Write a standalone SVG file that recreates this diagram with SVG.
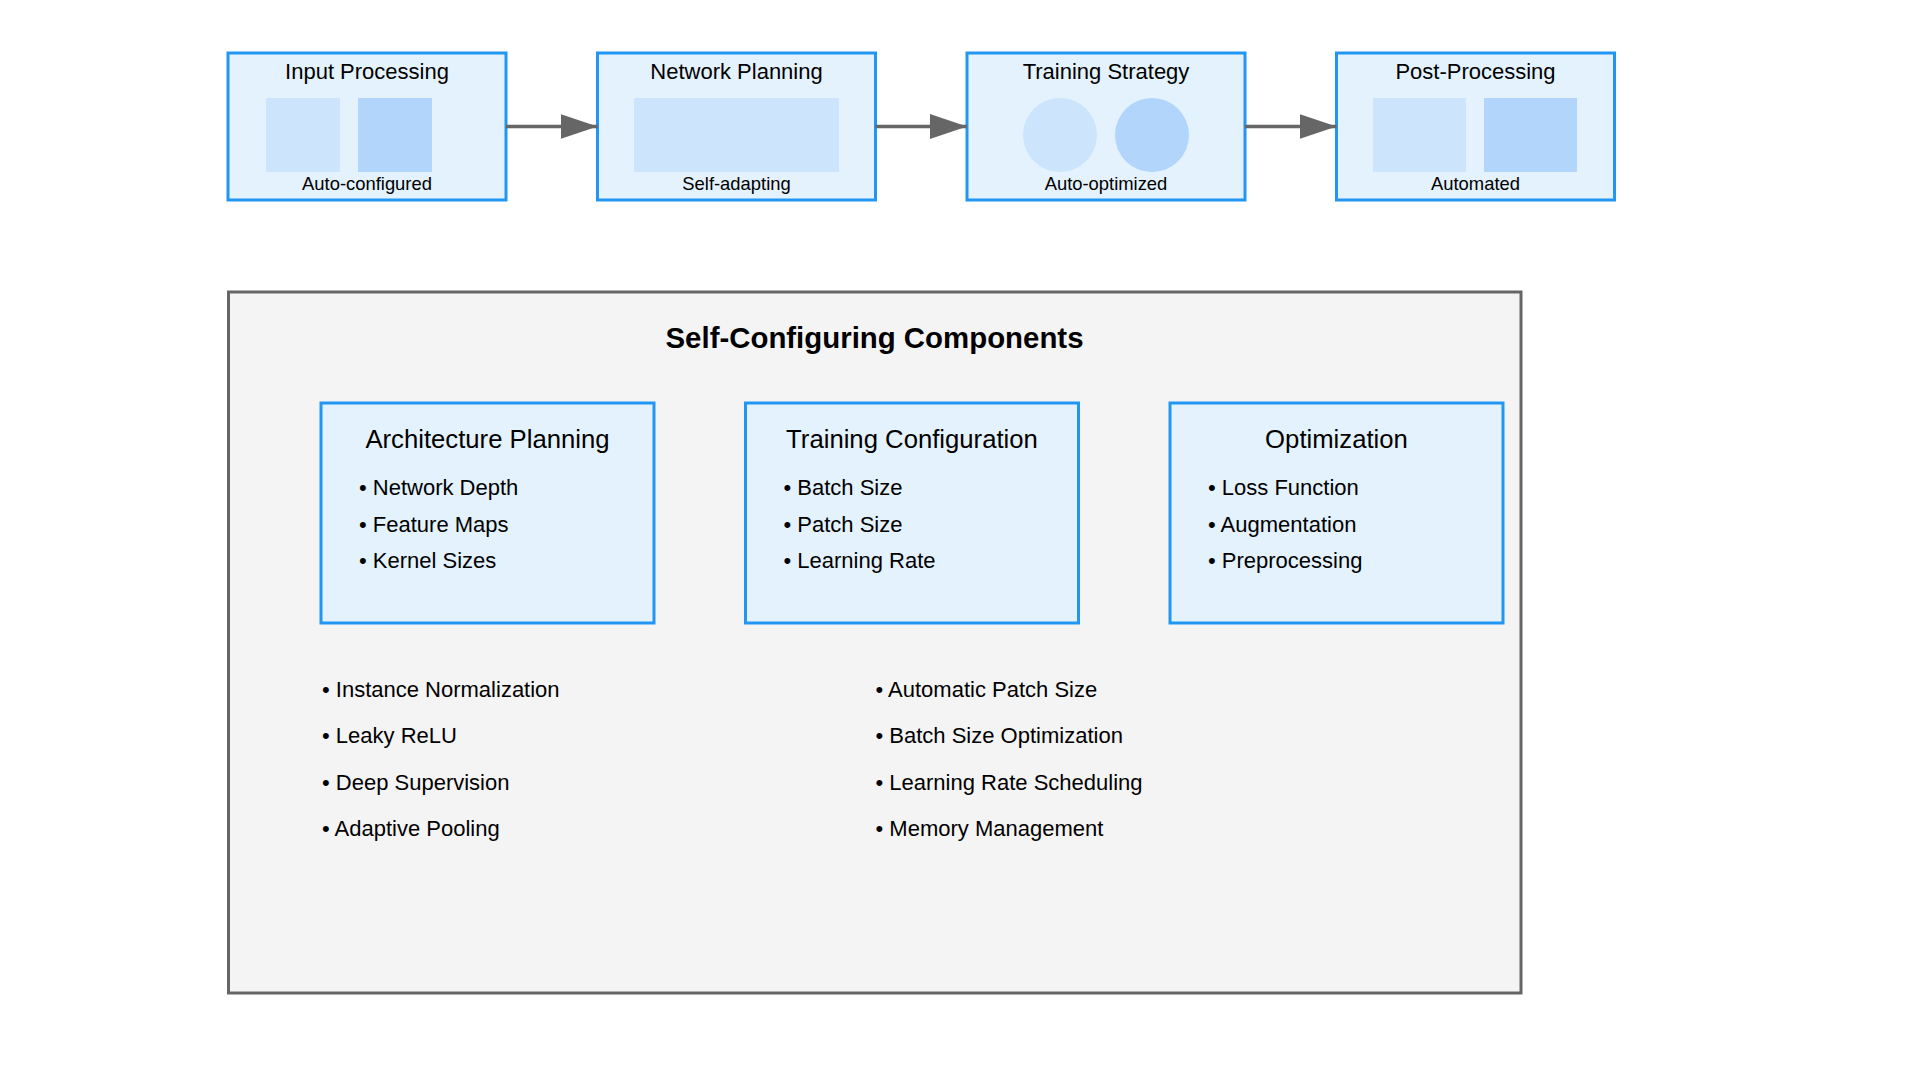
<svg xmlns="http://www.w3.org/2000/svg" width="1920" height="1080" viewBox="0 0 1920 1080">
<defs>
<style>
.box{fill:#e3f2fd;stroke:#2196f3;stroke-width:3}
.t{font-family:"Liberation Sans",Arial,Helvetica,sans-serif;fill:#000}
.h{font-size:22px;text-anchor:middle}
.s{font-size:18.4px;text-anchor:middle}
.ht{font-size:25.7px;text-anchor:middle}
.li{font-size:22px}
.c1{fill:#cde5fc}
.c2{fill:#b2d6fb}
.conn{stroke:#666;stroke-width:3.5;fill:none}
</style>
<marker id="arr" markerUnits="userSpaceOnUse" markerWidth="38" markerHeight="26" refX="37" refY="12.5" orient="auto">
<path d="M0,0 L37,12.5 L0,25 Z" fill="#666"/>
</marker>
</defs>
<rect width="1920" height="1080" fill="#fff"/>

<g id="input-processing">
<rect class="box" x="228" y="53" width="278" height="147"/>
<text class="t h" x="367" y="79">Input Processing</text>
<rect class="c1" x="266" y="98" width="74" height="74"/>
<rect class="c2" x="358" y="98" width="74" height="74"/>
<text class="t s" x="367" y="190">Auto-configured</text>
</g>

<g id="network-planning">
<rect class="box" x="597.5" y="53" width="278" height="147"/>
<text class="t h" x="736.5" y="79">Network Planning</text>
<rect class="c1" x="634" y="98" width="205" height="74"/>
<text class="t s" x="736.5" y="190">Self-adapting</text>
</g>

<g id="training-strategy">
<rect class="box" x="967" y="53" width="278" height="147"/>
<text class="t h" x="1106" y="79">Training Strategy</text>
<circle class="c1" cx="1060" cy="135" r="37"/>
<circle class="c2" cx="1152" cy="135" r="37"/>
<text class="t s" x="1106" y="190">Auto-optimized</text>
</g>

<g id="post-processing">
<rect class="box" x="1336.5" y="53" width="278" height="147"/>
<text class="t h" x="1475.5" y="79">Post-Processing</text>
<rect class="c1" x="1373" y="98" width="93" height="74"/>
<rect class="c2" x="1484" y="98" width="93" height="74"/>
<text class="t s" x="1475.5" y="190">Automated</text>
</g>

<g id="connectors">
<line class="conn" x1="506" y1="126.5" x2="597.5" y2="126.5" marker-end="url(#arr)"/>
<line class="conn" x1="875.5" y1="126.5" x2="967" y2="126.5" marker-end="url(#arr)"/>
<line class="conn" x1="1245" y1="126.5" x2="1336.5" y2="126.5" marker-end="url(#arr)"/>
</g>

<g id="self-configuring-components">
<rect x="228.5" y="292" width="1292.5" height="701" fill="#f4f4f4" stroke="#666" stroke-width="3"/>
<text class="t" x="874.5" y="348" font-size="29.4" font-weight="bold" text-anchor="middle">Self-Configuring Components</text>
</g>

<g id="architecture-planning">
<rect class="box" x="321" y="403" width="333" height="220"/>
<text class="t ht" x="487.5" y="448">Architecture Planning</text>
<text class="t li" x="359" y="495">• Network Depth</text>
<text class="t li" x="359" y="531.7">• Feature Maps</text>
<text class="t li" x="359" y="568.3">• Kernel Sizes</text>
</g>

<g id="training-configuration">
<rect class="box" x="745.5" y="403" width="333" height="220"/>
<text class="t ht" x="912" y="448">Training Configuration</text>
<text class="t li" x="783.5" y="495">• Batch Size</text>
<text class="t li" x="783.5" y="531.7">• Patch Size</text>
<text class="t li" x="783.5" y="568.3">• Learning Rate</text>
</g>

<g id="optimization">
<rect class="box" x="1170" y="403" width="333" height="220"/>
<text class="t ht" x="1336.5" y="448">Optimization</text>
<text class="t li" x="1208" y="495">• Loss Function</text>
<text class="t li" x="1208" y="531.7">• Augmentation</text>
<text class="t li" x="1208" y="568.3">• Preprocessing</text>
</g>

<g id="architecture-features">
<text class="t li" x="322" y="697">• Instance Normalization</text>
<text class="t li" x="322" y="743">• Leaky ReLU</text>
<text class="t li" x="322" y="789.5">• Deep Supervision</text>
<text class="t li" x="322" y="836">• Adaptive Pooling</text>
</g>

<g id="training-features">
<text class="t li" x="875.5" y="697">• Automatic Patch Size</text>
<text class="t li" x="875.5" y="743">• Batch Size Optimization</text>
<text class="t li" x="875.5" y="789.5">• Learning Rate Scheduling</text>
<text class="t li" x="875.5" y="836">• Memory Management</text>
</g>
</svg>
